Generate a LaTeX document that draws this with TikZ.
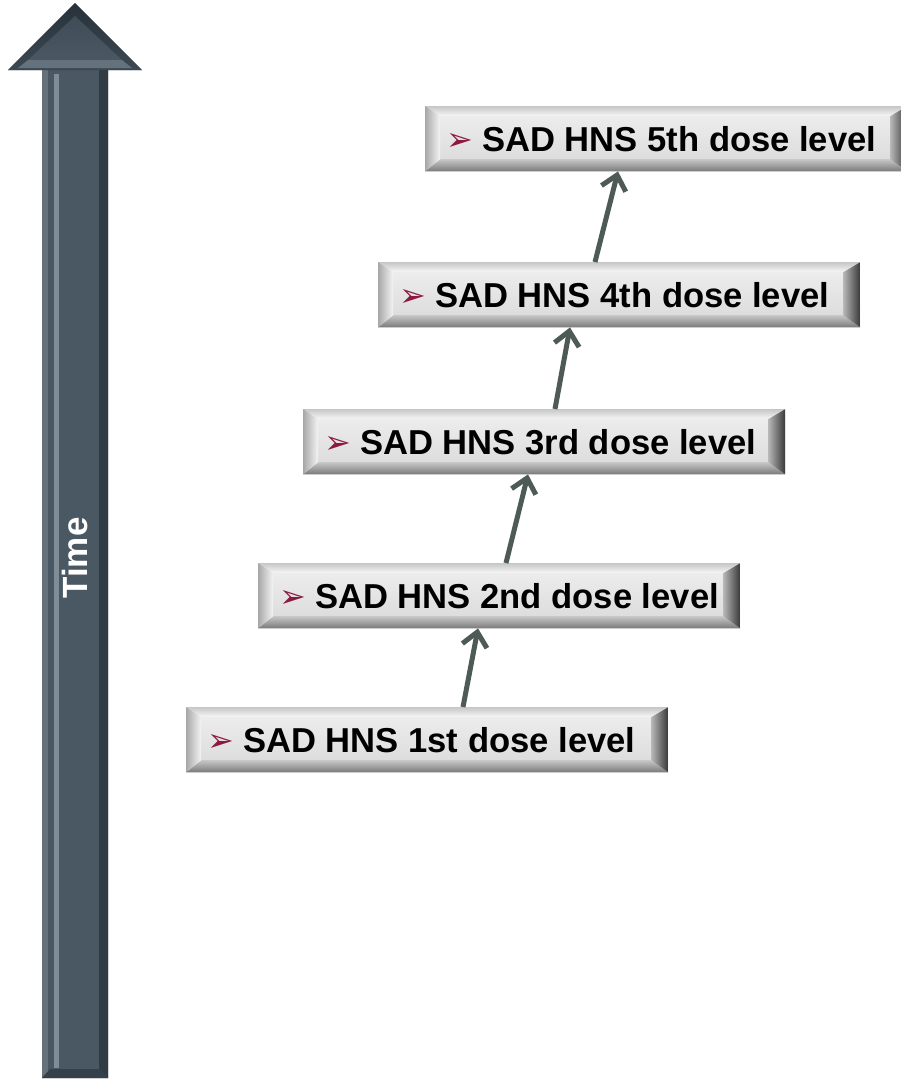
\documentclass[tikz,border=0pt]{standalone}
\usepackage{fontspec}
\setmainfont{Liberation Sans}
\newfontfamily\dejavu{DejaVu Sans}
\usetikzlibrary{arrows.meta}
\definecolor{shaftc}{HTML}{4A5864}
\definecolor{shaftlight}{HTML}{7F8D98}
\definecolor{shaftdark}{HTML}{303B44}
\definecolor{headdark}{HTML}{27313A}
\definecolor{connc}{HTML}{4E5A55}
\definecolor{bulletred}{HTML}{8C1A40}
\newcommand{\bulletmark}{\raisebox{1pt}{\dejavu\mdseries\fontsize{32}{32}\selectfont\color{bulletred}➢}}
\newcommand{\dosetext}[1]{\makebox[482pt][l]{\hspace{21pt}\makebox[36pt][l]{\bulletmark}#1}}
\tikzset{
  dosebox/.style={rectangle, inner sep=0pt, minimum width=482pt, minimum height=65pt,
    anchor=north west, font=\fontsize{34.6}{40}\selectfont\bfseries, text=black,
    path picture={
      \shade[top color=white!94!black, bottom color=white!85!black]
        (path picture bounding box.south west) rectangle (path picture bounding box.north east);
      % top bevel
      \shade[top color=white!78!black, bottom color=white!97!black]
        (path picture bounding box.north west) -- (path picture bounding box.north east)
        -- ([shift={(-17pt,-10pt)}]path picture bounding box.north east)
        -- ([shift={(15pt,-10pt)}]path picture bounding box.north west) -- cycle;
      % bottom bevel
      \shade[top color=white!78!black, bottom color=white!48!black]
        (path picture bounding box.south west) -- (path picture bounding box.south east)
        -- ([shift={(-17pt,12pt)}]path picture bounding box.south east)
        -- ([shift={(15pt,12pt)}]path picture bounding box.south west) -- cycle;
      % left bevel
      \shade[left color=white!66!black, right color=white!96!black]
        (path picture bounding box.north west) -- (path picture bounding box.south west)
        -- ([shift={(15pt,12pt)}]path picture bounding box.south west)
        -- ([shift={(15pt,-10pt)}]path picture bounding box.north west) -- cycle;
      % right bevel
      \shade[left color=white!72!black, right color=white!22!black]
        (path picture bounding box.north east) -- (path picture bounding box.south east)
        -- ([shift={(-17pt,12pt)}]path picture bounding box.south east)
        -- ([shift={(-17pt,-10pt)}]path picture bounding box.north east) -- cycle;
    }},
  conn/.style={draw=connc, line width=5pt, -{Straight Barb[length=14pt,width=25pt]}},
  timelabel/.style={rotate=90, text=white, font=\fontsize{35}{40}\selectfont\bfseries, inner sep=0pt}
}
\begin{document}
\begin{tikzpicture}[x=1pt,y=-1pt]
\useasboundingbox (0,0) rectangle (901,1080);
\clip (0,0) rectangle (901,1080);
\fill[white] (0,0) rectangle (901,1080);

% big time arrow
\fill[shaftc] (42,1078) -- (42,70) -- (8,70) -- (75,3) -- (142,70) -- (108,70) -- (108,1078) -- cycle;
\fill[shaftc!85!white] (42,70) rectangle (48,1078);
\fill[shaftlight] (54,74) rectangle (59,1068);
\fill[shaftdark] (99,70) -- (108,70) -- (108,1078) -- (99,1069) -- cycle;
\fill[shaftdark!80!shaftc] (42,1078) -- (108,1078) -- (99,1069) -- (50,1069) -- cycle;
\shade[top color=headdark, bottom color=shaftc!60!headdark] (8,70) -- (75,3) -- (142,70) -- cycle;
\shade[top color=shaftc!70!headdark, bottom color=shaftc] (75,16) -- (28,60) -- (122,60) -- cycle;
\fill[shaftlight!50!shaftc] (28,60) -- (122,60) -- (132,68) -- (18,68) -- cycle;
\node[timelabel] (time) at (75,558) {Time};

% dose boxes
\node[dosebox] (b1) at (186,707) {\dosetext{SAD HNS 1st dose level}};
\node[dosebox] (b2) at (258,563) {\dosetext{SAD HNS 2nd dose level}};
\node[dosebox] (b3) at (303,409) {\dosetext{SAD HNS 3rd dose level}};
\node[dosebox] (b4) at (378,262) {\dosetext{SAD HNS 4th dose level}};
\node[dosebox] (b5) at (425,106) {\dosetext{SAD HNS 5th dose level}};

% connectors
\draw[conn] ([xshift=277pt]b1.north west) -- ([xshift=220pt]b2.south west);
\draw[conn] ([xshift=248pt]b2.north west) -- ([xshift=225pt]b3.south west);
\draw[conn] ([xshift=252pt]b3.north west) -- ([xshift=192pt]b4.south west);
\draw[conn] ([xshift=217pt]b4.north west) -- ([xshift=193pt]b5.south west);
\end{tikzpicture}
\end{document}
